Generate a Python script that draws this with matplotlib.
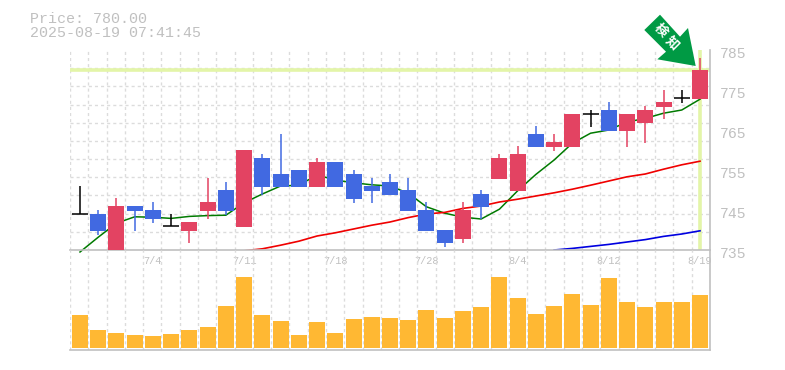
import matplotlib
matplotlib.use('Agg')

import matplotlib.pyplot as plt
from matplotlib.patches import Polygon
from matplotlib.transforms import ScaledTranslation
import numpy as np

# dados
opens = [744, 744, 730, 746, 745, 741, 739.75, 744.75, 750, 740.75, 758, 754, 755, 750.75, 757, 754, 751, 752,
         750, 745, 740, 737.75, 749, 752.75, 749.75, 764, 760.75, 760.75, 769, 770, 764.75, 766.75, 770.75, 773, 772.75]
highs = [751, 745, 748, 746, 747, 744, 742, 753, 752, 760, 759, 764, 755, 758, 757, 755, 753, 754,
         753, 747, 740, 747, 750, 759, 761, 766, 764, 769, 770, 772, 769, 771, 775, 775, 783]
lows = [744, 738.75, 730, 739.75, 741.75, 741, 736.75, 742.75, 743.75, 740.75, 748.75, 750.75, 750.75, 750.75, 750.75, 746.75, 746.75, 748.75,
        744.75, 739.75, 735.75, 736.75, 742.75, 752.75, 749.75, 760.75, 759.75, 760.75, 765.75, 764.75, 760.75, 761.75, 767.75, 771.75, 772.75]
closes = [744, 739.75, 746, 744.75, 742.75, 741, 742, 747, 744.75, 760, 750.75, 750.75, 750.75, 757, 750.75, 747.75, 749.75, 748.75,
          744.75, 739.75, 736.75, 745, 745.75, 758, 759, 760.75, 762, 769, 769, 764.75, 769, 770, 772, 773, 780]
volumes = [32.7, 17.7, 14.7, 12.7, 11.7, 13.7, 17.7, 20.7, 41.7, 70.7, 32.7, 26.7, 12.7, 25.7, 14.7, 28.7, 30.7, 29.7,
           27.7, 37.7, 29.7, 36.7, 40.7, 70.7, 49.7, 33.7, 41.7, 53.7, 42.7, 69.7, 45.7, 40.7, 45.7, 45.7, 52.7]
ma_short = [734.5, 738.2, 741.7, 743.3, 743.2, 742.9, 743.4, 743.6, 743.7, 746.8, 749, 751, 751.2, 753.75, 752.5, 751.8, 751.3, 751,
            749.2, 745.8, 744.2, 743.2, 742.75, 745.2, 749.8, 753.9, 757.5, 761.7, 764.2, 765, 767, 767.9, 769.2, 770, 772.7]
ma_mid_idx = list(range(9, 35))
ma_mid = [734.8, 735.3, 736.2, 737.2, 738.5, 739.3, 740.25, 741.2, 742, 743.1, 744, 744.4, 745.4, 746, 747, 747.7,
          748.5, 749.3, 750.2, 751.2, 752.25, 753.3, 754, 755.2, 756.3, 757.2]
ma_long_idx = list(range(26, 35))
ma_long = [735, 735.4, 735.9, 736.4, 737, 737.6, 738.4, 739, 739.8]

date_idx = [4, 9, 14, 19, 24, 29, 34]
date_labels = ['7/4', '7/11', '7/18', '7/28', '8/4', '8/12', '8/19']
price_ticks = [735, 745, 755, 765, 775, 785]
last_price = 780

W, H = 785, 370
UP = '#e34362'
DOWN = '#4169e1'
DOJI = '#000000'
HL = '#e3f5a8'
AXC = '#c0c0c0'
GRID = '#dcdcdc'
MONO = 'Liberation Mono'

fig = plt.figure(figsize=(W / 100, H / 100), dpi=100, facecolor='white')


def box(x0, y0, x1, y1):
    # caixa em pixels (origem em cima)
    return [x0 / W, 1 - y1 / H, (x1 - x0) / W, (y1 - y0) / H]


ax = fig.add_axes(box(70, 50, 710, 250))
ax_v = fig.add_axes(box(70, 250, 710, 350))
xs = np.arange(len(closes))
x_lim = (-0.548, 34.548)
x_grid = np.linspace(x_lim[0], x_lim[1], 36)

# grafico de precos
ax.set_xlim(*x_lim)
ax.set_ylim(735, 785)
ax.set_xticks(x_grid, minor=True)
ax.set_yticks(np.linspace(735, 785, 12), minor=True)
ax.grid(True, which='minor', color=GRID, linestyle=(0, (2.2, 2.2)), linewidth=1)
ax.set_axisbelow(True)
ax.tick_params(which='minor', length=0)
ax.axhline(last_price, color=HL, linewidth=2.6, zorder=1.5)
ax.axvline(xs[-1], color=HL, linewidth=2.6, zorder=1.5)

ax.plot(xs, ma_short, color='#007a00', linewidth=1.1, zorder=2, clip_on=False)
ax.plot(ma_mid_idx, ma_mid, color='#f00000', linewidth=1.2, zorder=2)
ax.plot(ma_long_idx, ma_long, color='#0000e0', linewidth=1.2, zorder=2)

for i in xs:
    o, h, l, c = opens[i], highs[i], lows[i], closes[i]
    if o == c:
        ax.vlines(i, l, h, color=DOJI, linewidth=1.1, zorder=3)
        ax.hlines(c, i - 0.44, i + 0.44, color=DOJI, linewidth=1.1, zorder=3)
        continue
    col = UP if c > o else DOWN
    ax.vlines(i, l, h, color=col, linewidth=1.1, zorder=3)
    ax.bar(i, abs(c - o), 0.877, bottom=min(o, c), color=col, linewidth=0, zorder=3)

ax.set_xticks(date_idx)
ax.set_xticklabels(date_labels, fontfamily=MONO, fontsize=7.4, color=AXC)
ax.yaxis.tick_right()
ax.set_yticks(price_ticks)
ax.set_yticklabels(price_ticks, fontfamily=MONO, fontsize=10.6, color=AXC)
ax.tick_params(which='major', length=0)
ax.tick_params(axis='x', which='major', pad=4)
ax.tick_params(axis='y', which='major', pad=6.8)
for lb in ax.get_yticklabels():
    lb.set_transform(lb.get_transform() + ScaledTranslation(0, -1.6 / 72, fig.dpi_scale_trans))
for s in ['top', 'left']:
    ax.spines[s].set_visible(False)
for s in ['right', 'bottom']:
    ax.spines[s].set_color(AXC)
    ax.spines[s].set_linewidth(1.2)

# volume
ax_v.set_xlim(*x_lim)
ax_v.set_ylim(-2.3, 97.7)
ax_v.set_xticks(x_grid, minor=True)
ax_v.grid(True, which='minor', axis='x', color=GRID, linestyle=(0, (2.2, 2.2)), linewidth=1)
ax_v.set_axisbelow(True)
ax_v.bar(xs, volumes, 0.877, color='#ffb833', linewidth=0, zorder=3)
ax_v.set_xticks([])
ax_v.set_yticks([])
ax_v.tick_params(which='minor', length=0)
ax_v.patch.set_alpha(0)
for s in ['top', 'left']:
    ax_v.spines[s].set_visible(False)
for s in ['right', 'bottom']:
    ax_v.spines[s].set_color(AXC)
    ax_v.spines[s].set_linewidth(1.2)

# textos do topo
fig.text(30 / W, 1 - 19 / H, 'Price: 780.00', fontfamily=MONO, fontsize=10.8, color=AXC, va='center')
fig.text(30 / W, 1 - 33 / H, '2025-08-19 07:41:45', fontfamily=MONO, fontsize=10.8, color=AXC, va='center')

# seta verde
over = fig.add_axes([0, 0, 1, 1])
over.set_xlim(0, W)
over.set_ylim(H, 0)
over.axis('off')
arrow = [(660, 14.7), (644.3, 30), (666, 51.7), (657.3, 59.3), (695.7, 66), (688, 28), (680, 36.7)]
over.add_patch(Polygon(arrow, closed=True, facecolor='#009a44', edgecolor='none'))
for ch, cx, cy in [('検', 660.5, 30.5), ('知', 672.5, 43)]:
    over.text(cx, cy, ch, rotation=-45, rotation_mode='anchor', ha='center', va='center',
              color='white', fontsize=9.5, fontweight='bold', fontfamily=['Noto Sans CJK JP', 'DejaVu Sans'])

fig.savefig('out.png', dpi=100)
